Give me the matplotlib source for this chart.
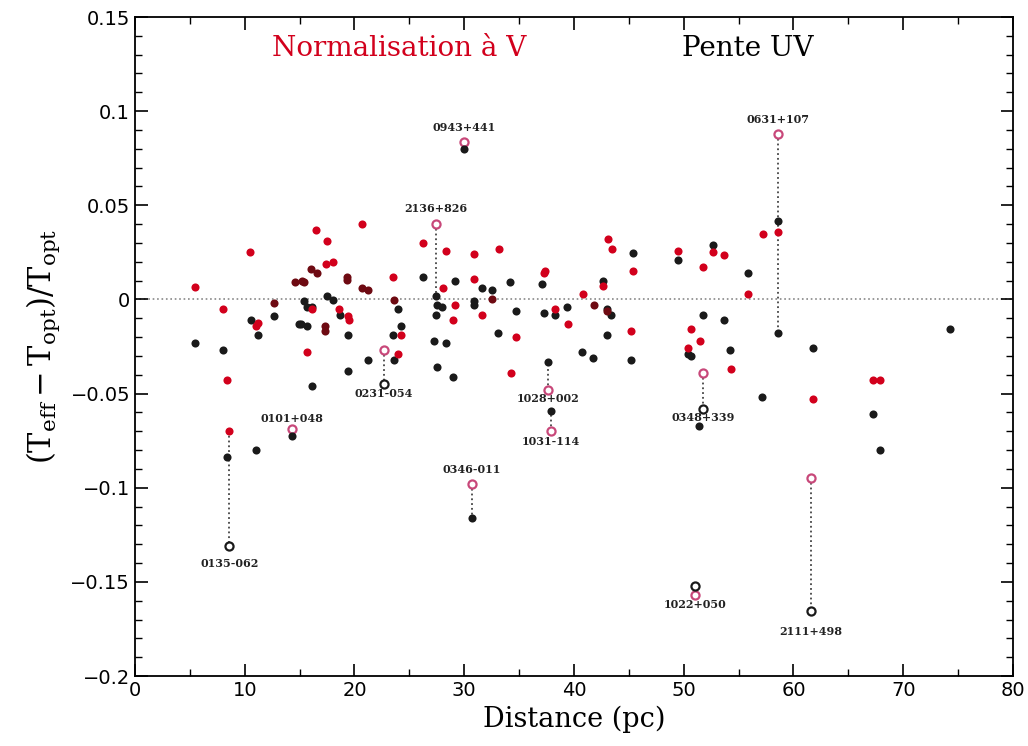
#!/usr/bin/env python3

import numpy as np
from matplotlib import pyplot as plt
from matplotlib.ticker import MultipleLocator

plt.rcParams['mathtext.fontset'] = 'custom'
plt.rcParams['mathtext.rm'] = 'DejaVu Serif'
plt.rcParams['mathtext.it'] = 'DejaVu Serif:italic'

# Normalisation a V (red, filled)
red_d = [5.5, 10.5, 8.0, 8.4, 11.0, 11.2, 16.5, 17.5, 17.4, 18.0, 16.1, 18.6, 19.4, 19.5,
         15.7, 20.7, 26.2, 28.3, 30.9, 33.2, 23.5, 30.9, 37.3, 37.4, 28.1, 29.2, 31.6, 29.0,
         24.2, 34.7, 24.0, 34.3, 38.3, 39.5, 40.8, 43.1, 43.5, 45.4, 45.2, 49.5, 52.7, 53.7,
         51.8, 50.7, 51.5, 50.4, 54.3, 57.2, 58.6, 55.9, 67.2, 67.9, 61.8, 42.6]
red_v = [0.0064, 0.025, -0.005, -0.043, -0.014, -0.0125, 0.037, 0.031, 0.019, 0.020, -0.005,
         -0.005, -0.009, -0.011, -0.028, 0.040, 0.030, 0.0255, 0.024, 0.027, 0.0117, 0.0106,
         0.0138, 0.0149, 0.006, -0.0027, -0.008, -0.011, -0.019, -0.020, -0.029, -0.039,
         -0.005, -0.013, 0.003, 0.032, 0.027, 0.015, -0.0165, 0.0255, 0.025, 0.0234, 0.017,
         -0.0155, -0.022, -0.026, -0.037, 0.0345, 0.0356, 0.0027, -0.043, -0.043, -0.0527, 0.007]

# Pente UV (black, filled)
blk_d = [5.5, 8.0, 10.6, 11.2, 12.7, 15.4, 15.7, 16.1, 17.5, 18.0, 18.7, 14.9, 15.1, 15.7,
         16.1, 19.4, 19.4, 26.2, 29.2, 34.2, 37.1, 31.6, 32.5, 27.5, 28.0, 30.9, 30.9, 24.0,
         27.4, 34.7, 24.2, 23.5, 33.1, 27.2, 28.3, 21.2, 23.6, 27.5, 29.0, 37.3, 38.3, 39.4,
         42.6, 45.4, 43.4, 43.0, 43.0, 40.7, 41.7, 45.2, 49.5, 52.7, 51.8, 53.7, 50.4, 50.7,
         54.2, 51.4, 58.6, 55.9, 74.3, 61.8, 57.1, 67.2, 67.9, 8.4, 11.0]
blk_v = [-0.023, -0.027, -0.011, -0.019, -0.009, -0.001, -0.004, -0.004, 0.002, -0.0005,
         -0.008, -0.013, -0.013, -0.014, -0.046, -0.019, -0.038, 0.0117, 0.010, 0.009, 0.008,
         0.006, 0.005, -0.003, -0.004, -0.001, -0.003, -0.005, -0.008, -0.006, -0.014, -0.019,
         -0.018, -0.022, -0.023, -0.032, -0.032, -0.036, -0.041, -0.007, -0.0085, -0.004,
         0.0096, 0.0245, -0.008, -0.005, -0.019, -0.028, -0.031, -0.032, 0.0207, 0.029,
         -0.008, -0.011, -0.029, -0.030, -0.027, -0.067, 0.0415, 0.0138, -0.0155, -0.026,
         -0.0516, -0.0607, -0.080, -0.0835, -0.080]

# both methods agree (points overlap, dark red)
both_d = [12.7, 16.0, 16.6, 14.6, 15.2, 15.4, 19.3, 19.3, 17.3, 17.3, 20.7, 21.2, 23.6,
          32.5, 41.8, 43.0]
both_v = [-0.002, 0.016, 0.014, 0.009, 0.0096, 0.009, 0.012, 0.0105, -0.014, -0.0165,
          0.006, 0.005, -0.0005, 0.0, -0.003, -0.006]

# labelled stars: distance, value (normalisation V), value (pente UV)
star_names = ['0135-062', '0101+048', '0231-054', '2136+826', '0943+441', '0346-011',
              '1028+002', '1031-114', '0348+339', '0631+107', '1022+050', '2111+498']
star_d = [8.6, 14.3, 22.7, 27.4, 30.0, 30.7, 37.6, 37.9, 51.8, 58.6, 51.0, 61.6]
star_vnorm = [-0.0697, -0.0686, -0.027, 0.040, 0.0835, -0.098, -0.048, -0.070, -0.039,
              0.0878, -0.157, -0.0947]
star_uv = [-0.131, -0.0724, -0.045, 0.0016, 0.080, -0.116, -0.033, -0.059, -0.058,
           -0.018, -0.152, -0.1655]
red_open = [False, True, True, True, True, True, True, True, True, True, True, True]
uv_open = [True, False, True, False, False, False, False, False, True, False, True, True]
lab_dy = [-17, 10, -9, 16, 15, 14, -9, -10, -9, 15, -9, -20]

RED = '#d2001c'
PINK = '#c8487a'
DARK = '#6e0a12'
BLK = '#1a1a1a'

fig = plt.figure(figsize=(10.28, 7.46), dpi=100)
ax = fig.add_axes([0.1313, 0.0938, 0.8541, 0.8834])

ax.plot([0, 80], [0, 0], ls=':', color='#888888', lw=1.2, zorder=1)

for i in range(len(star_names)):
    ax.plot([star_d[i], star_d[i]], [star_vnorm[i], star_uv[i]], ls=':', color='#444444',
            lw=1.3, zorder=1)

ax.scatter(blk_d, blk_v, s=34, color=BLK, zorder=3, linewidths=0)
ax.scatter(red_d, red_v, s=34, color=RED, zorder=3, linewidths=0)
ax.scatter(both_d, both_v, s=34, color=DARK, zorder=3, linewidths=0)

for i in range(len(star_names)):
    if red_open[i]:
        ax.scatter(star_d[i], star_vnorm[i], s=34, facecolors='white', edgecolors=PINK,
                   linewidths=1.6, zorder=4)
    else:
        ax.scatter(star_d[i], star_vnorm[i], s=34, color=RED, linewidths=0, zorder=4)
    if uv_open[i]:
        ax.scatter(star_d[i], star_uv[i], s=34, facecolors='white', edgecolors=BLK,
                   linewidths=1.6, zorder=4)
    else:
        ax.scatter(star_d[i], star_uv[i], s=34, color=BLK, linewidths=0, zorder=4)
    if lab_dy[i] > 0:
        y = max(star_vnorm[i], star_uv[i])
    else:
        y = min(star_vnorm[i], star_uv[i])
    ax.annotate(star_names[i], (star_d[i], y), xytext=(0, lab_dy[i]),
                textcoords='offset pixels', ha='center', va='center',
                fontsize=8, fontweight='bold', family='DejaVu Serif', color='#222222')

ax.text(24.1, 0.1335, 'Normalisation à V', color=RED, fontsize=20, ha='center',
        va='center', family='DejaVu Serif')
ax.text(55.85, 0.1335, 'Pente UV', color='black', fontsize=20, ha='center',
        va='center', family='DejaVu Serif')

ax.set_xlim(0, 80)
ax.set_ylim(-0.2, 0.15)
ax.xaxis.set_major_locator(MultipleLocator(10))
ax.xaxis.set_minor_locator(MultipleLocator(5))
ax.yaxis.set_major_locator(MultipleLocator(0.05))
ax.yaxis.set_minor_locator(MultipleLocator(0.01))
ax.set_yticks([0.15, 0.1, 0.05, 0, -0.05, -0.1, -0.15, -0.2])
ax.set_yticklabels(['0.15', '0.1', '0.05', '0', '\u22120.05', '\u22120.1', '\u22120.15', '\u22120.2'])
ax.tick_params(which='both', direction='in', top=True, right=True, labelsize=14)
ax.tick_params(which='major', length=9, width=1.2)
ax.tick_params(which='minor', length=5, width=1)
for s in ax.spines.values():
    s.set_linewidth(1.3)

ax.set_xlabel('Distance (pc)', fontsize=19.5, family='DejaVu Serif')
ax.set_ylabel(r'$(\mathrm{T_{eff}} - \mathrm{T_{opt}})/\mathrm{T_{opt}}$', fontsize=22,
              labelpad=6)

plt.savefig('out.png', dpi=100)
